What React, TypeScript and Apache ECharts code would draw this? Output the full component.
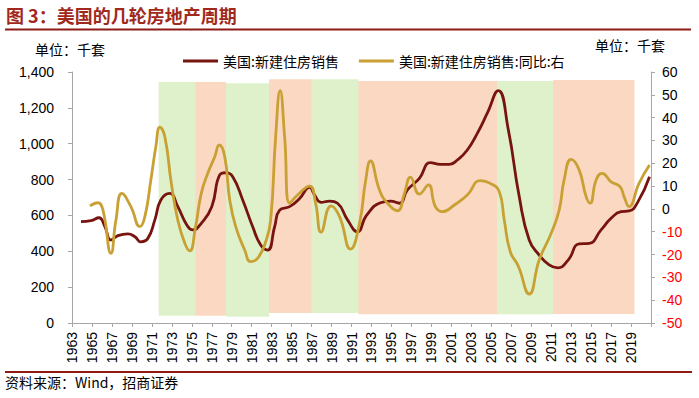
import React, { useEffect, useRef } from "react";
import * as echarts from "echarts";

// 美国:新建住房销售（千套）
const salesYears = [1963.9, 1964.9, 1965.7, 1966.3, 1966.9, 1967.6, 1968.6, 1969.3, 1969.9, 1970.6, 1971.3, 1971.9, 1972.8, 1973.6, 1974.5, 1975.1, 1975.95, 1977.0, 1977.8, 1978.4, 1979.1, 1980.1, 1981.1, 1981.9, 1982.6, 1983.3, 1983.8, 1984.8, 1985.8, 1986.8, 1987.3, 1987.95, 1988.8, 1989.6, 1990.6, 1991.6, 1992.5, 1993.9, 1994.9, 1995.8, 1996.6, 1997.8, 1998.9, 1999.9, 2000.8, 2001.6, 2002.6, 2003.6, 2004.6, 2005.7, 2006.7, 2007.8, 2008.8, 2009.8, 2010.8, 2011.65, 2012.7, 2013.8, 2014.8, 2016.0, 2017.0, 2018.0, 2018.8, 2019.7, 2020.85];
const salesValues = [565, 571, 587, 537, 463, 487, 497, 481, 453, 472, 575, 686, 723, 649, 547, 519, 556, 649, 826, 838, 816, 686, 537, 435, 407, 537, 630, 649, 695, 757, 714, 673, 680, 668, 575, 509, 600, 671, 680, 668, 742, 807, 894, 885, 885, 909, 965, 1058, 1170, 1296, 1080, 705, 463, 379, 324, 308, 351, 441, 444, 519, 584, 621, 625, 677, 816];

// 美国:新建住房销售:同比（%，右轴）
const yoyYears = [1964.8, 1965.6, 1966.1, 1966.9, 1967.4, 1968.0, 1968.9, 1969.8, 1970.3, 1970.9, 1971.4, 1971.8, 1972.3, 1972.95, 1973.6, 1974.3, 1974.8, 1975.35, 1975.95, 1976.6, 1977.3, 1977.75, 1978.3, 1978.8, 1979.4, 1980.3, 1980.9, 1981.6, 1982.4, 1982.9, 1983.4, 1983.85, 1984.3, 1984.8, 1985.6, 1986.8, 1987.4, 1987.95, 1988.95, 1989.8, 1990.9, 1991.8, 1992.4, 1992.9, 1993.8, 1994.6, 1995.6, 1996.3, 1996.9, 1997.8, 1998.7, 1999.4, 2000.1, 2001.3, 2002.6, 2003.9, 2004.9, 2005.8, 2006.3, 2006.9, 2007.7, 2008.8, 2009.8, 2011.0, 2011.8, 2012.3, 2013.0, 2013.8, 2014.5, 2014.9, 2015.5, 2016.1, 2017.0, 2017.9, 2018.3, 2018.8, 2019.8, 2020.85];
const yoyValues = [1.3, 2.7, -0.5, -19.5, -4.9, 6.8, 1.0, -7.8, -3.4, 12.7, 27.3, 35.8, 31.6, 11.2, -4.9, -15.1, -18.4, -8.5, 6.8, 15.6, 22.9, 28, 22.9, 3.9, -7.8, -18, -23.1, -21.6, -14.4, -4.9, 31.6, 51.8, 31.6, 2.5, 6.1, 10, 2.5, -10.2, 1.3, -3.4, -17.6, -6.3, 12, 21, 8.3, 2.5, -0.8, 6.8, 13.9, 6.5, 10.5, 1.0, -1.2, 1.7, 6.1, 12.4, 11.2, 7.5, -4.9, -18.7, -25, -37.3, -22.4, -10.7, -0.5, 12.7, 21.7, 17.1, 5.4, 2.5, 12.7, 15.6, 11.9, 9.7, 5.4, 1.0, 11.2, 19.2];

// 周期阶段（阴影）
const cycleStart = [1971.68, 1975.35, 1978.43, 1982.74, 1986.98, 1991.69, 2005.59, 2011.2];
const cycleEnd = [1975.35, 1978.43, 1982.74, 1986.98, 1991.69, 2005.59, 2011.2, 2019.35];
const cycleType = ["down", "up", "down", "up", "down", "up", "down", "up"];
const cycleTop = [1344, 1344, 1337, 1359, 1359, 1350, 1350, 1355];
const cycleBottom = [41, 41, 35, 56, 56, 49, 49, 50];

const leftTicks = { min: 0, max: 1400, interval: 200 };
const rightTicks = { min: -50, max: 60, interval: 10 };
const xTicks = { min: 1963, max: 2021, interval: 2, lastLabel: 2019 };

const seriesNames = ["美国:新建住房销售", "美国:新建住房销售:同比:右"];

const CJK = '"Noto Sans CJK SC", "Liberation Sans", sans-serif';
const NUM = '"Liberation Sans", Arial, sans-serif';
const RED = "#8E1B14";

export default function App() {
  const ref = useRef<HTMLDivElement>(null);
  useEffect(() => {
    document.body.style.margin = "0";
    const chart = echarts.init(ref.current!, null, { renderer: "svg" });
    const areas = cycleStart.map((s, i) => [
      {
        coord: [s, cycleTop[i]],
        itemStyle: {
          color: cycleType[i] === "down" ? "rgba(146,208,80,0.3)" : "rgba(237,125,49,0.3)",
        },
      },
      { coord: [cycleEnd[i], cycleBottom[i]] },
    ]);
    const axisGray = "#A6A6A6";
    chart.setOption({
      animation: false,
      backgroundColor: "#fff",
      grid: { left: 72, right: 48, top: 72, bottom: 75 },
      legend: {
        data: seriesNames,
        left: 178,
        top: 49,
        itemWidth: 35,
        itemHeight: 3,
        icon: "rect",
        itemGap: 20,
        textStyle: { fontFamily: CJK, fontSize: 14, color: "#000" },
      },
      graphic: [
        {
          type: "text",
          left: 6,
          top: 6,
          style: { text: "图 3：美国的几轮房地产周期", font: `bold 18px ${CJK}`, fill: "#A0291C" },
        },
        {
          type: "line",
          shape: { x1: 5, y1: 29.5, x2: 691, y2: 29.5 },
          style: { stroke: RED, lineWidth: 2 },
        },
        {
          type: "text",
          left: 35,
          top: 42,
          style: { text: "单位：千套", font: `14px ${CJK}`, fill: "#000" },
        },
        {
          type: "text",
          left: 595,
          top: 38,
          style: { text: "单位：千套", font: `14px ${CJK}`, fill: "#000" },
        },
        {
          type: "line",
          shape: { x1: 5, y1: 372, x2: 692, y2: 372 },
          style: { stroke: RED, lineWidth: 2 },
        },
        {
          type: "text",
          left: 5,
          top: 375,
          style: { text: "资料来源：Wind，招商证券", font: `14px ${CJK}`, fill: "#000" },
        },
      ],
      xAxis: {
        type: "value",
        min: xTicks.min,
        max: xTicks.max,
        interval: xTicks.interval,
        axisLine: { show: true, lineStyle: { color: axisGray } },
        axisTick: { show: true, length: 4, lineStyle: { color: axisGray } },
        splitLine: { show: false },
        axisLabel: {
          rotate: 90,
          margin: 9,
          fontSize: 14,
          fontFamily: NUM,
          color: "#000",
          formatter: (v: number) => (v <= xTicks.lastLabel ? String(v) : ""),
        },
      },
      yAxis: [
        {
          type: "value",
          min: leftTicks.min,
          max: leftTicks.max,
          interval: leftTicks.interval,
          axisLine: { show: true, lineStyle: { color: axisGray } },
          axisTick: { show: true, length: 4, lineStyle: { color: axisGray } },
          splitLine: { show: false },
          axisLabel: {
            margin: 18,
            fontSize: 14,
            fontFamily: NUM,
            color: "#000",
            formatter: (v: number) => v.toLocaleString("en-US"),
          },
        },
        {
          type: "value",
          position: "right",
          min: rightTicks.min,
          max: rightTicks.max,
          interval: rightTicks.interval,
          axisLine: { show: true, lineStyle: { color: axisGray } },
          axisTick: { show: true, length: 4, lineStyle: { color: axisGray } },
          splitLine: { show: false },
          axisLabel: {
            margin: 11,
            fontSize: 14,
            fontFamily: NUM,
            color: (v: any) => (Number(v) < 0 ? "#FF0000" : "#000"),
          },
        },
      ],
      series: [
        {
          name: seriesNames[0],
          type: "line",
          yAxisIndex: 0,
          smooth: 0.5,
          symbol: "none",
          z: 2,
          color: "#77140F",
          lineStyle: { width: 2.8, color: "#77140F" },
          data: salesYears.map((y, i) => [y, salesValues[i]]),
        },
        {
          name: seriesNames[1],
          type: "line",
          yAxisIndex: 1,
          smooth: 0.5,
          symbol: "none",
          z: 3,
          color: "#C9A033",
          lineStyle: { width: 2.8, color: "#C9A033" },
          data: yoyYears.map((y, i) => [y, yoyValues[i]]),
        },
        {
          name: "cycles",
          type: "line",
          yAxisIndex: 0,
          z: 10,
          silent: true,
          symbol: "none",
          data: [],
          markArea: { silent: true, data: areas },
        },
      ],
    });
    return () => chart.dispose();
  }, []);
  return (
    <div
      ref={ref}
      style={{ position: "absolute", left: 0, top: 0, width: 699, height: 398 }}
    />
  );
}
